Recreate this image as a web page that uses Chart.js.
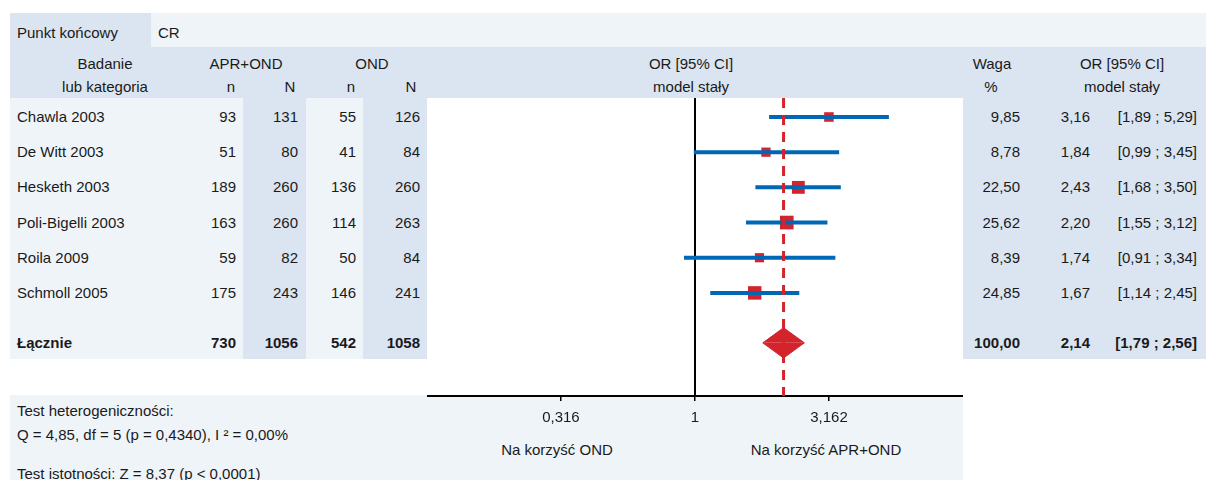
<!DOCTYPE html>
<html lang="pl">
<head>
<meta charset="utf-8">
<title>Forest plot - CR</title>
<script src="https://cdn.jsdelivr.net/npm/chart.js@4.4.1/dist/chart.umd.min.js"></script>
<style>
  body {
    margin: 0;
    width: 1206px;
    height: 480px;
    overflow: hidden;
    position: relative;
    background: #fff;
    font-family: "Liberation Sans", Arial, sans-serif;
    font-size: 15px;
    color: #1a1a1a;
  }
  .box { position: absolute; }
  .blue { background: #dbe5f1; }
  .light { background: #eff4f9; }
  .t { position: absolute; white-space: nowrap; line-height: 18px; }
  .b { font-weight: bold; }
  #plotWrap { position: absolute; left: 427px; top: 98px; width: 536px; height: 330px; }
</style>
</head>
<body>
<div id="page"></div>
<div id="plotWrap"><canvas id="forestChart"></canvas></div>

<script>
// dane z badań
const studies = ['Chawla 2003', 'De Witt 2003', 'Hesketh 2003', 'Poli-Bigelli 2003', 'Roila 2009', 'Schmoll 2005'];
const aprEvents = [93, 51, 189, 163, 59, 175];
const aprTotal = [131, 80, 260, 260, 82, 243];
const ondEvents = [55, 41, 136, 114, 50, 146];
const ondTotal = [126, 84, 260, 263, 84, 241];
const weights = [9.85, 8.78, 22.50, 25.62, 8.39, 24.85];
const oddsRatio = [3.16, 1.84, 2.43, 2.20, 1.74, 1.67];
const ciLow = [1.89, 0.99, 1.68, 1.55, 0.91, 1.14];
const ciHigh = [5.29, 3.45, 3.50, 3.12, 3.34, 2.45];

// wynik łączny
const pooledLabel = 'Łącznie';
const pooledCounts = [730, 1056, 542, 1058];
const pooledWeight = 100.00;
const pooledOR = 2.14;
const pooledCI = [1.79, 2.56];

// oś X
const tickValues = [0.316, 1, 3.162];
const tickLabels = ['0,316', '1', '3,162'];

// układ wierszy
const ROW0 = 117, ROW_H = 35.2, POOLED_ROW = 6.42;
const Y_MIN = -0.54, Y_MAX = 7.93;
const RED = '#d3242c', BLUE = '#0067b4';

const page = document.getElementById('page');

function box(cls, x, y, w, h) {
    const d = document.createElement('div');
    d.className = 'box ' + cls;
    d.style.left = x + 'px'; d.style.top = y + 'px';
    d.style.width = w + 'px'; d.style.height = h + 'px';
    page.appendChild(d);
}

function txt(s, x, y, align, bold) {
    const d = document.createElement('div');
    d.className = 't' + (bold ? ' b' : '');
    d.textContent = s;
    d.style.top = (y - 9) + 'px';
    if (align === 'right') {
        d.style.right = (1206 - x) + 'px';
    } else if (align === 'center') {
        d.style.left = (x - 150) + 'px';
        d.style.width = '300px';
        d.style.textAlign = 'center';
    } else {
        d.style.left = x + 'px';
    }
    page.appendChild(d);
}

const fmt = v => v.toFixed(2).replace('.', ',');
const fmtCI = (a, b) => '[' + fmt(a) + ' ; ' + fmt(b) + ']';

// tła
box('blue', 10, 13, 141, 34);
box('light', 151, 13, 1055, 34);
box('blue', 10, 47, 1196, 51);
box('light', 10, 98, 233, 261);
box('blue', 243, 98, 63, 261);
box('light', 306, 98, 57, 261);
box('blue', 363, 98, 64, 261);
box('blue', 963, 98, 243, 261);
box('light', 10, 395, 953, 85);

// nagłówki
txt('Punkt końcowy', 17, 33);
txt('CR', 158, 33);
txt('Badanie', 105, 64, 'center');
txt('lub kategoria', 105, 87, 'center');
txt('APR+OND', 246, 64, 'center');
txt('OND', 372, 64, 'center');
txt('n', 231, 87, 'center');
txt('N', 290, 87, 'center');
txt('n', 351, 87, 'center');
txt('N', 411, 87, 'center');
txt('OR [95% CI]', 691, 64, 'center');
txt('model stały', 691, 87, 'center');
txt('Waga', 992, 64, 'center');
txt('%', 991, 87, 'center');
txt('OR [95% CI]', 1122, 64, 'center');
txt('model stały', 1122, 87, 'center');

// wiersze badań
studies.forEach((s, i) => {
    const y = ROW0 + i * ROW_H;
    txt(s, 17, y);
    txt(String(aprEvents[i]), 236, y, 'right');
    txt(String(aprTotal[i]), 298, y, 'right');
    txt(String(ondEvents[i]), 356, y, 'right');
    txt(String(ondTotal[i]), 420, y, 'right');
    txt(fmt(weights[i]), 1020, y, 'right');
    txt(fmt(oddsRatio[i]), 1090, y, 'right');
    txt(fmtCI(ciLow[i], ciHigh[i]), 1197, y, 'right');
});

// wiersz łączny
const py = ROW0 + POOLED_ROW * ROW_H;
txt(pooledLabel, 17, py, 'left', true);
[236, 298, 356, 420].forEach((x, k) => txt(String(pooledCounts[k]), x, py, 'right', true));
txt(fmt(pooledWeight), 1020, py, 'right', true);
txt(fmt(pooledOR), 1090, py, 'right', true);
txt(fmtCI(pooledCI[0], pooledCI[1]), 1197, py, 'right', true);

// opisy pod osią
txt('Na korzyść OND', 557, 450, 'center');
txt('Na korzyść APR+OND', 826, 450, 'center');

// testy
txt('Test heterogeniczności:', 17, 411);
txt('Q = 4,85, df = 5 (p = 0,4340), I ² = 0,00%', 17, 435);
txt('Test istotności: Z = 8,37 (p < 0,0001)', 17, 474);

// wykres
const datasets = [];

// romb (dwie połówki)
const dh = 0.43;
datasets.push({
    data: [{x: pooledCI[0], y: POOLED_ROW}, {x: pooledOR, y: POOLED_ROW - dh}, {x: pooledCI[1], y: POOLED_ROW}],
    borderColor: RED, backgroundColor: RED, borderWidth: 1, pointRadius: 0,
    fill: {value: POOLED_ROW}, order: 0
});
datasets.push({
    data: [{x: pooledCI[0], y: POOLED_ROW}, {x: pooledOR, y: POOLED_ROW + dh}, {x: pooledCI[1], y: POOLED_ROW}],
    borderColor: RED, backgroundColor: RED, borderWidth: 1, pointRadius: 0,
    fill: {value: POOLED_ROW}, order: 0
});

// linia przerywana dla wyniku łącznego
datasets.push({
    data: [{x: pooledOR, y: Y_MIN}, {x: pooledOR, y: Y_MAX}],
    borderColor: RED, borderWidth: 3, borderDash: [10, 7], pointRadius: 0, order: 1
});

// przedziały ufności
studies.forEach((s, i) => {
    datasets.push({
        data: [{x: ciLow[i], y: i}, {x: ciHigh[i], y: i}],
        borderColor: BLUE, borderWidth: 4, pointRadius: 0, order: 2
    });
});

// kwadraty (wielkość wg wagi)
datasets.push({
    data: studies.map((s, i) => ({x: oddsRatio[i], y: i})),
    showLine: false,
    pointStyle: 'rect',
    pointRadius: weights.map(w => (7 + 0.26 * w) / Math.SQRT2),
    pointBackgroundColor: RED,
    pointBorderWidth: 0,
    order: 3
});

// linia OR = 1
datasets.push({
    data: [{x: 1, y: Y_MIN}, {x: 1, y: Y_MAX}],
    borderColor: '#000', borderWidth: 2, pointRadius: 0, order: 4
});

new Chart(document.getElementById('forestChart'), {
    type: 'line',
    data: { datasets: datasets },
    options: {
        responsive: true,
        maintainAspectRatio: false,
        animation: false,
        layout: { padding: 0, autoPadding: false },
        plugins: { legend: { display: false }, tooltip: { enabled: false } },
        scales: {
            x: {
                type: 'logarithmic',
                min: 0.1,
                max: 10,
                afterBuildTicks: scale => { scale.ticks = tickValues.map(v => ({ value: v })); },
                afterFit: scale => { scale.height = 32; },
                ticks: {
                    callback: (v, i) => tickLabels[i],
                    color: '#1a1a1a',
                    padding: 8,
                    maxRotation: 0,
                    font: { family: '"Liberation Sans", Arial, sans-serif', size: 15 }
                },
                grid: { drawOnChartArea: false, drawTicks: true, tickLength: 5, color: '#000', lineWidth: 1.5 },
                border: { display: true, color: '#000', width: 2 }
            },
            y: {
                type: 'linear',
                reverse: true,
                min: Y_MIN,
                max: Y_MAX,
                display: false
            }
        }
    }
});
</script>
</body>
</html>
